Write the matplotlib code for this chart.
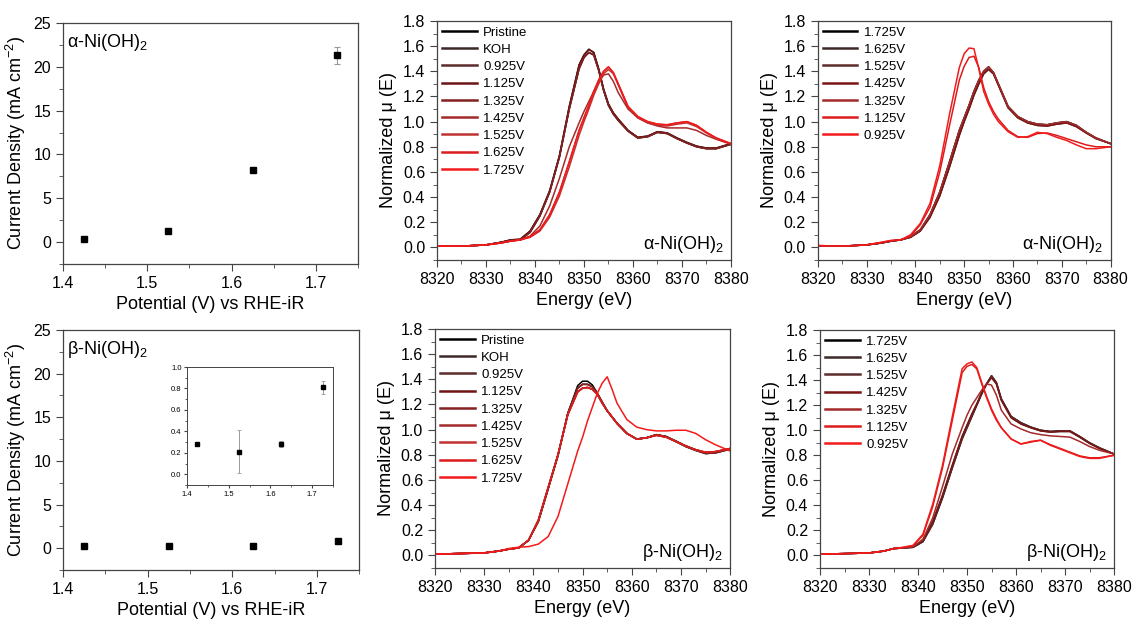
import matplotlib
matplotlib.use('Agg')
import matplotlib.pyplot as plt
from matplotlib.ticker import MultipleLocator

plt.rcParams['font.family'] = ['Liberation Sans', 'DejaVu Sans']
plt.rcParams['mathtext.fontset'] = 'custom'
plt.rcParams['mathtext.rm'] = 'Liberation Sans'
plt.rcParams['mathtext.it'] = 'Liberation Sans:italic'
plt.rcParams['mathtext.bf'] = 'Liberation Sans:bold'

# current density vs potential
potential = [1.425, 1.525, 1.625, 1.725]
alpha_j = [0.3, 1.3, 8.2, 21.3]
alpha_err = [0.05, 0.1, 0.15, 1.0]
beta_j = [0.28, 0.21, 0.28, 0.81]
beta_err = [0.02, 0.2, 0.03, 0.06]

# XANES energy grid (eV)
E = [8320, 8325, 8330, 8333, 8335, 8337, 8339, 8341, 8343, 8345, 8347, 8349, 8350, 8351, 8352,
     8353, 8354, 8355, 8356, 8357, 8359, 8361, 8363, 8365, 8367, 8369, 8371, 8373, 8375, 8377, 8380]

# alpha, in situ
a_red_hi = [0.01, 0.01, 0.02, 0.04, 0.06, 0.065, 0.13, 0.26, 0.45, 0.73, 1.12, 1.45, 1.53, 1.575, 1.55,
            1.42, 1.26, 1.14, 1.07, 1.02, 0.93, 0.875, 0.885, 0.92, 0.91, 0.87, 0.835, 0.805, 0.79, 0.79, 0.825]
a_red_lo = [0.01, 0.01, 0.02, 0.04, 0.055, 0.06, 0.12, 0.25, 0.44, 0.72, 1.10, 1.42, 1.51, 1.55, 1.53,
            1.41, 1.25, 1.13, 1.06, 1.01, 0.925, 0.87, 0.88, 0.915, 0.905, 0.865, 0.83, 0.80, 0.785, 0.785, 0.82]
a_mid = [0.01, 0.01, 0.02, 0.035, 0.05, 0.06, 0.09, 0.17, 0.33, 0.55, 0.80, 0.99, 1.08, 1.16, 1.24,
         1.31, 1.37, 1.38, 1.32, 1.23, 1.10, 1.03, 0.99, 0.965, 0.95, 0.95, 0.95, 0.93, 0.89, 0.86, 0.82]
a_ox_hi = [0.01, 0.01, 0.02, 0.035, 0.05, 0.06, 0.085, 0.14, 0.26, 0.44, 0.68, 0.93, 1.03, 1.13, 1.24,
           1.33, 1.40, 1.435, 1.39, 1.30, 1.12, 1.04, 1.00, 0.98, 0.975, 0.99, 1.0, 0.97, 0.915, 0.87, 0.825]
a_ox_lo = [0.01, 0.01, 0.02, 0.035, 0.05, 0.06, 0.08, 0.13, 0.24, 0.41, 0.64, 0.89, 1.00, 1.10, 1.21,
           1.30, 1.38, 1.415, 1.38, 1.29, 1.11, 1.03, 0.99, 0.97, 0.965, 0.98, 0.99, 0.96, 0.91, 0.865, 0.825]
# alpha, reverse sweep
ar_red_hi = [0.015, 0.01, 0.02, 0.04, 0.055, 0.06, 0.10, 0.19, 0.35, 0.65, 1.06, 1.43, 1.54, 1.585, 1.58,
             1.42, 1.24, 1.14, 1.06, 1.00, 0.92, 0.875, 0.88, 0.915, 0.905, 0.875, 0.85, 0.815, 0.785, 0.785, 0.80]
ar_red_lo = [0.015, 0.01, 0.02, 0.04, 0.055, 0.06, 0.09, 0.18, 0.32, 0.60, 0.97, 1.33, 1.44, 1.51, 1.52,
             1.43, 1.27, 1.16, 1.08, 1.02, 0.93, 0.88, 0.875, 0.905, 0.91, 0.89, 0.865, 0.84, 0.815, 0.80, 0.80]
# beta, in situ
b_red_hi = [0.01, 0.015, 0.02, 0.035, 0.05, 0.06, 0.12, 0.27, 0.53, 0.79, 1.13, 1.35, 1.385, 1.385, 1.355,
            1.29, 1.22, 1.15, 1.10, 1.05, 0.97, 0.925, 0.935, 0.96, 0.945, 0.91, 0.87, 0.84, 0.815, 0.82, 0.85]
b_red_mid = [0.01, 0.015, 0.02, 0.035, 0.05, 0.06, 0.12, 0.27, 0.53, 0.80, 1.13, 1.33, 1.36, 1.36, 1.34,
             1.285, 1.215, 1.15, 1.10, 1.05, 0.97, 0.925, 0.935, 0.96, 0.945, 0.905, 0.865, 0.835, 0.81, 0.815, 0.845]
b_red_lo = [0.01, 0.015, 0.02, 0.035, 0.05, 0.06, 0.12, 0.28, 0.54, 0.80, 1.12, 1.30, 1.33, 1.335, 1.32,
            1.28, 1.21, 1.15, 1.10, 1.05, 0.97, 0.925, 0.935, 0.955, 0.94, 0.905, 0.87, 0.84, 0.82, 0.825, 0.85]
b_ox = [0.01, 0.015, 0.02, 0.035, 0.055, 0.065, 0.07, 0.09, 0.15, 0.31, 0.57, 0.83, 0.94, 1.07, 1.18,
        1.29, 1.37, 1.42, 1.32, 1.21, 1.08, 1.02, 1.00, 0.99, 0.99, 0.995, 0.995, 0.97, 0.92, 0.88, 0.83]
# beta, reverse sweep
br_ox_hi = [0.01, 0.015, 0.02, 0.035, 0.055, 0.06, 0.065, 0.11, 0.25, 0.46, 0.70, 0.93, 1.02, 1.11, 1.20,
            1.29, 1.37, 1.435, 1.38, 1.25, 1.11, 1.06, 1.025, 1.0, 0.99, 0.995, 0.995, 0.95, 0.90, 0.86, 0.81]
br_ox_lo = [0.01, 0.015, 0.02, 0.035, 0.055, 0.06, 0.07, 0.12, 0.27, 0.48, 0.72, 0.95, 1.04, 1.13, 1.21,
            1.30, 1.37, 1.42, 1.37, 1.24, 1.10, 1.05, 1.02, 0.995, 0.985, 0.99, 0.99, 0.945, 0.895, 0.855, 0.81]
br_mid = [0.01, 0.015, 0.02, 0.035, 0.055, 0.06, 0.07, 0.13, 0.30, 0.55, 0.81, 1.02, 1.12, 1.20, 1.26,
          1.32, 1.37, 1.36, 1.28, 1.16, 1.05, 1.01, 0.98, 0.965, 0.955, 0.95, 0.945, 0.91, 0.87, 0.84, 0.81]
br_red_hi = [0.01, 0.015, 0.02, 0.035, 0.055, 0.065, 0.08, 0.17, 0.41, 0.72, 1.11, 1.49, 1.53, 1.545, 1.50,
             1.38, 1.27, 1.17, 1.09, 1.02, 0.93, 0.89, 0.91, 0.92, 0.88, 0.85, 0.82, 0.79, 0.775, 0.775, 0.80]
br_red_lo = [0.01, 0.015, 0.02, 0.035, 0.055, 0.065, 0.08, 0.16, 0.39, 0.70, 1.08, 1.46, 1.51, 1.525, 1.49,
             1.37, 1.26, 1.16, 1.08, 1.02, 0.93, 0.89, 0.905, 0.92, 0.885, 0.855, 0.825, 0.795, 0.78, 0.78, 0.80]

labels_in = ['Pristine', 'KOH', '0.925V', '1.125V', '1.325V', '1.425V', '1.525V', '1.625V', '1.725V']
labels_rev = ['1.725V', '1.625V', '1.525V', '1.425V', '1.325V', '1.125V', '0.925V']
alpha_in = [a_red_hi, a_red_lo, a_red_lo, a_red_hi, a_red_lo, a_mid, a_ox_lo, a_ox_hi, a_ox_hi]
alpha_rev = [a_ox_hi, a_ox_lo, a_ox_hi, a_ox_lo, a_ox_hi, ar_red_lo, ar_red_hi]
beta_in = [b_red_hi, b_red_mid, b_red_mid, b_red_lo, b_red_mid, b_red_lo, b_red_lo, b_red_lo, b_ox]
beta_rev = [br_ox_hi, br_ox_lo, br_ox_hi, br_ox_lo, br_mid, br_red_lo, br_red_hi]

colors_in = ['#000000', '#3d2828', '#5c2c2c', '#6e1414', '#842020', '#a42a2a', '#c03232', '#dc1c1c', '#f21a1a']
colors_rev = ['#000000', '#3d2828', '#5c2c2c', '#7a1414', '#a42a2a', '#dc1c1c', '#f21a1a']

fig = plt.figure(figsize=(11.35, 6.25), dpi=100)

def style(ax):
    for s in ax.spines.values():
        s.set_color('#444444')
        s.set_linewidth(0.9)
    ax.tick_params(which='both', direction='out', top=False, right=False, colors='#444444',
                   labelcolor='black', labelsize=11.5)
    ax.tick_params(which='major', length=5)
    ax.tick_params(which='minor', length=3)

def jv_panel(rect, j, err, name):
    ax = fig.add_axes(rect)
    ax.errorbar(potential, j, yerr=err, fmt='s', color='black', ms=5, ecolor='#999999',
                elinewidth=0.8, capsize=2, capthick=0.8)
    ax.set_xlim(1.4, 1.75)
    ax.set_ylim(-2.5, 25)
    ax.xaxis.set_major_locator(MultipleLocator(0.1))
    ax.xaxis.set_minor_locator(MultipleLocator(0.05))
    ax.yaxis.set_major_locator(MultipleLocator(5))
    ax.yaxis.set_minor_locator(MultipleLocator(2.5))
    style(ax)
    ax.set_xlabel('Potential (V) vs RHE-iR', fontsize=13)
    ax.set_ylabel('Current Density (mA cm$^{-2}$)', fontsize=13)
    ax.text(0.015, 0.9, name + '-Ni(OH)$_2$', transform=ax.transAxes, fontsize=13)
    return ax

def xanes_panel(rect, curves, labels, colors, name):
    ax = fig.add_axes(rect)
    for y, lab, c in zip(curves, labels, colors):
        ax.plot(E, y, color=c, lw=1.1, label=lab)
    ax.set_xlim(8320, 8380)
    ax.set_ylim(-0.1, 1.8)
    ax.xaxis.set_major_locator(MultipleLocator(10))
    ax.xaxis.set_minor_locator(MultipleLocator(5))
    ax.yaxis.set_major_locator(MultipleLocator(0.2))
    ax.yaxis.set_minor_locator(MultipleLocator(0.1))
    ax.yaxis.set_major_formatter(matplotlib.ticker.FormatStrFormatter('%.1f'))
    style(ax)
    ax.set_xlabel('Energy (eV)', fontsize=13)
    ax.set_ylabel('Normalized \u03bc (E)', fontsize=13)
    leg = ax.legend(loc='upper left', frameon=False, fontsize=9.5, handlelength=2.6,
                    handletextpad=0.5, labelspacing=0.38, borderaxespad=0.1, borderpad=0.3)
    for h in leg.get_lines():
        h.set_linewidth(1.8)
    ax.text(0.975, 0.045, name + '-Ni(OH)$_2$', transform=ax.transAxes, fontsize=13, ha='right')
    return ax

jv_panel([0.0555, 0.5776, 0.2600, 0.3856], alpha_j, alpha_err, '\u03b1')
axb = jv_panel([0.0555, 0.0880, 0.2610, 0.3840], beta_j, beta_err, '\u03b2')

xanes_panel([0.3850, 0.5840, 0.2590, 0.3824], alpha_in, labels_in, colors_in, '\u03b1')
xanes_panel([0.7205, 0.5840, 0.2580, 0.3824], alpha_rev, labels_rev, colors_rev, '\u03b1')
xanes_panel([0.3833, 0.0912, 0.2600, 0.3824], beta_in, labels_in, colors_in, '\u03b2')
xanes_panel([0.7225, 0.0912, 0.2590, 0.3808], beta_rev, labels_rev, colors_rev, '\u03b2')

# inset for beta current density
ins = fig.add_axes([0.1648, 0.2240, 0.1286, 0.1888])
ins.errorbar(potential, beta_j, yerr=beta_err, fmt='s', color='black', ms=2.5, ecolor='#999999',
             elinewidth=0.7, capsize=1.2, capthick=0.6)
ins.set_xlim(1.4, 1.75)
ins.set_ylim(-0.1, 1.0)
ins.xaxis.set_major_locator(MultipleLocator(0.1))
ins.xaxis.set_minor_locator(MultipleLocator(0.05))
ins.yaxis.set_major_locator(MultipleLocator(0.2))
ins.yaxis.set_minor_locator(MultipleLocator(0.1))
for s in ins.spines.values():
    s.set_color('#444444')
    s.set_linewidth(0.7)
ins.tick_params(which='both', direction='out', top=False, right=False, labelsize=5.5, pad=1.5,
                colors='#444444', labelcolor='black')
ins.tick_params(which='major', length=2.5)
ins.tick_params(which='minor', length=1.5)

fig.savefig('out.png', dpi=100)
